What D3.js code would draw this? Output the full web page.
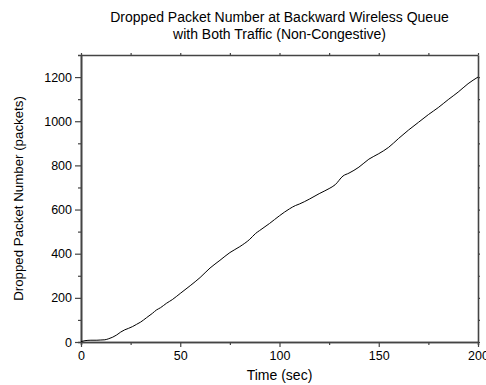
<!DOCTYPE html>
<html>
<head>
<meta charset="utf-8">
<script src="https://cdn.jsdelivr.net/npm/d3@7"></script>
<style>
body { margin: 0; background: #fff; }
text { font-family: "Liberation Sans", Arial, sans-serif; }
</style>
</head>
<body>
<svg></svg>
<script>
// dropped packets over time
var times = [0, 2, 5, 8, 10, 12, 14, 16, 18, 20, 22, 24, 26, 28, 30, 33, 36, 38, 40, 43, 46, 50,
  55, 60, 65, 70, 75, 80, 85, 88, 90, 95, 100, 105, 108, 110, 115, 120, 125, 128, 132, 135,
  140, 145, 150, 155, 160, 165, 170, 175, 180, 185, 190, 195, 200];
var dropped = [2, 6, 8, 8, 9, 10, 15, 22, 32, 45, 55, 62, 70, 80, 90, 110, 130, 145, 155, 175, 192, 220,
  255, 292, 335, 370, 405, 432, 465, 492, 505, 537, 572, 603, 618, 625, 647, 672, 695, 712, 752, 765,
  792, 828, 853, 882, 922, 960, 995, 1030, 1062, 1098, 1132, 1170, 1200];
var xTicks = [0, 50, 100, 150, 200];
var yTicks = [0, 200, 400, 600, 800, 1000, 1200];

var svgWidth = 486, svgHeight = 385;
var plotLeft = 81, plotRight = 478, plotTop = 55, plotBottom = 342;

var svg = d3.select("svg")
    .attr("width", svgWidth)
    .attr("height", svgHeight);

var xScale = d3.scaleLinear().domain([0, 200]).range([plotLeft, plotRight]);
var yScale = d3.scaleLinear().domain([0, 1300]).range([plotBottom, plotTop]);

var axisColor = "#444";

function styleAxis(g) {
  g.select(".domain").attr("stroke", axisColor).attr("stroke-width", 1.6);
  g.selectAll(".tick line").attr("stroke", axisColor).attr("stroke-width", 1.2);
  g.selectAll(".tick text").attr("font-size", 12.5).attr("fill", "#000")
    .attr("font-family", "'Liberation Sans', Arial, sans-serif");
}

// minor ticks first
svg.append("g").attr("transform", "translate(0," + plotBottom + ")")
  .call(d3.axisBottom(xScale).tickValues(d3.range(25, 200, 50)).tickSize(3).tickFormat(""))
  .call(styleAxis);
svg.append("g").attr("transform", "translate(" + plotLeft + ",0)")
  .call(d3.axisLeft(yScale).tickValues(d3.range(100, 1300, 200)).tickSize(3).tickFormat(""))
  .call(styleAxis);

// top and right frame with small ticks
svg.append("g").attr("transform", "translate(0," + plotTop + ")")
  .call(d3.axisTop(xScale).tickValues(d3.range(0, 201, 25)).tickSizeInner(2).tickSizeOuter(0).tickFormat(""))
  .call(styleAxis);
svg.append("g").attr("transform", "translate(" + plotRight + ",0)")
  .call(d3.axisRight(yScale).tickValues(d3.range(0, 1300, 100)).tickSizeInner(2).tickSizeOuter(0).tickFormat(""))
  .call(styleAxis);

// main axes
svg.append("g").attr("transform", "translate(0," + plotBottom + ")")
  .call(d3.axisBottom(xScale).tickValues(xTicks).tickFormat(d3.format("d"))
    .tickSizeInner(5).tickSizeOuter(0).tickPadding(4))
  .call(styleAxis);
svg.append("g").attr("transform", "translate(" + plotLeft + ",0)")
  .call(d3.axisLeft(yScale).tickValues(yTicks).tickFormat(d3.format("d"))
    .tickSizeInner(6).tickSizeOuter(0).tickPadding(3))
  .call(styleAxis);

var line = d3.line()
  .x(function(d, i) { return xScale(times[i]); })
  .y(function(d) { return yScale(d); })
  .curve(d3.curveMonotoneX);

svg.append("path")
  .datum(dropped)
  .attr("d", line)
  .attr("fill", "none")
  .attr("stroke", "#000")
  .attr("stroke-width", 1);

// titles
var cx = (plotLeft + plotRight) / 2;
svg.append("text").attr("x", cx).attr("y", 22).attr("text-anchor", "middle")
  .attr("font-size", 14).text("Dropped Packet Number at Backward Wireless Queue");
svg.append("text").attr("x", cx).attr("y", 39).attr("text-anchor", "middle")
  .attr("font-size", 14).text("with Both Traffic (Non-Congestive)");

svg.append("text").attr("x", cx).attr("y", 380).attr("text-anchor", "middle")
  .attr("font-size", 14).text("Time (sec)");

svg.append("text")
  .attr("transform", "translate(23," + ((plotTop + plotBottom) / 2) + ") rotate(-90)")
  .attr("text-anchor", "middle")
  .attr("font-size", 13.3).text("Dropped Packet Number (packets)");
</script>
</body>
</html>
